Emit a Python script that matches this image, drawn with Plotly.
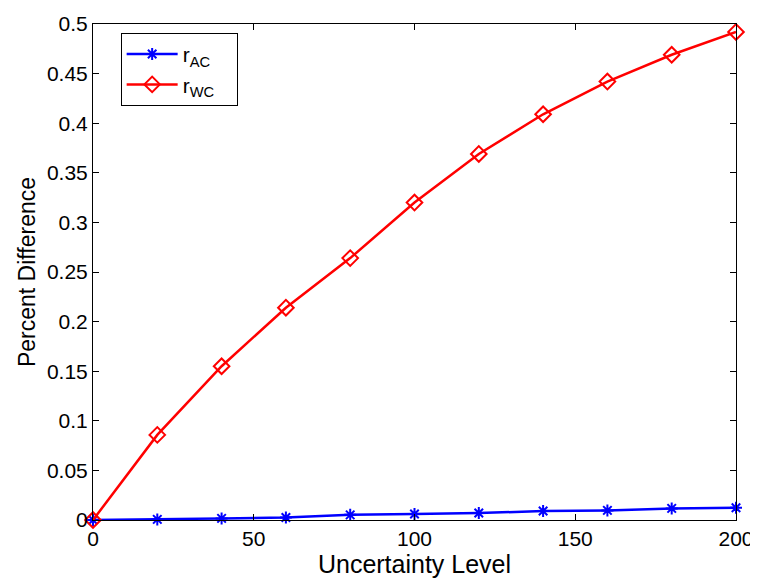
import plotly.graph_objects as go

x_levels = [0, 20, 40, 60, 80, 100, 120, 140, 160, 180, 200]
r_ac = [0.0, 0.0006, 0.0016, 0.0026, 0.0052, 0.006, 0.007, 0.009, 0.0097, 0.0117, 0.0123]
r_wc = [0.0, 0.0858, 0.155, 0.214, 0.264, 0.320, 0.369, 0.409, 0.442, 0.469, 0.492]
x_ticks = [0, 50, 100, 150, 200]
y_ticks = [0, 0.05, 0.1, 0.15, 0.2, 0.25, 0.3, 0.35, 0.4, 0.45, 0.5]
y_tick_labels = ["0", "0.05", "0.1", "0.15", "0.2", "0.25", "0.3", "0.35", "0.4", "0.45", "0.5"]

FONT = "Liberation Sans, Arial, sans-serif"

fig = go.Figure()
fig.add_trace(go.Scatter(
    x=x_levels, y=r_ac, mode="lines+markers", name="r<sub>AC</sub>&nbsp;&nbsp;&nbsp;",
    line=dict(color="#0000ff", width=2.5),
    marker=dict(symbol="asterisk-open", size=10, color="#0000ff", line=dict(color="#0000ff", width=2)),
    cliponaxis=False,
))
fig.add_trace(go.Scatter(
    x=x_levels, y=r_wc, mode="lines+markers", name="r<sub>WC</sub>&nbsp;&nbsp;&nbsp;",
    line=dict(color="#ff0000", width=2.5),
    marker=dict(symbol="diamond-open", size=12, color="#ff0000", line=dict(color="#ff0000", width=2)),
    cliponaxis=False,
))

axis_common = dict(
    showgrid=False, zeroline=False, showline=True, linecolor="black", linewidth=1,
    mirror="ticks", ticks="inside", ticklen=6, tickcolor="black",
    ticklabeloverflow="allow",
    tickfont=dict(family=FONT, size=21, color="black"),
)
fig.update_xaxes(range=[0, 200], tickvals=x_ticks,
                 title=dict(text="Uncertainty Level", font=dict(family=FONT, size=25, color="black"), standoff=2),
                 **axis_common)
fig.update_yaxes(range=[0, 0.5], tickvals=y_ticks, ticktext=y_tick_labels,
                 title=dict(text="Percent Difference", font=dict(family=FONT, size=23, color="black"), standoff=4),
                 **axis_common)

# page body has an 8px default margin; compensate so the plot area lands where the reference has it
fig.update_layout(
    width=750, height=570,
    margin=dict(l=85, r=21, t=4, b=58),
    paper_bgcolor="white", plot_bgcolor="white",
    showlegend=True,
    legend=dict(x=0.043, y=0.982, xanchor="left", yanchor="top",
                bordercolor="black", borderwidth=1, bgcolor="white",
                itemwidth=51,
                font=dict(family=FONT, size=21, color="black")),
)

fig.write_html("out.html")
